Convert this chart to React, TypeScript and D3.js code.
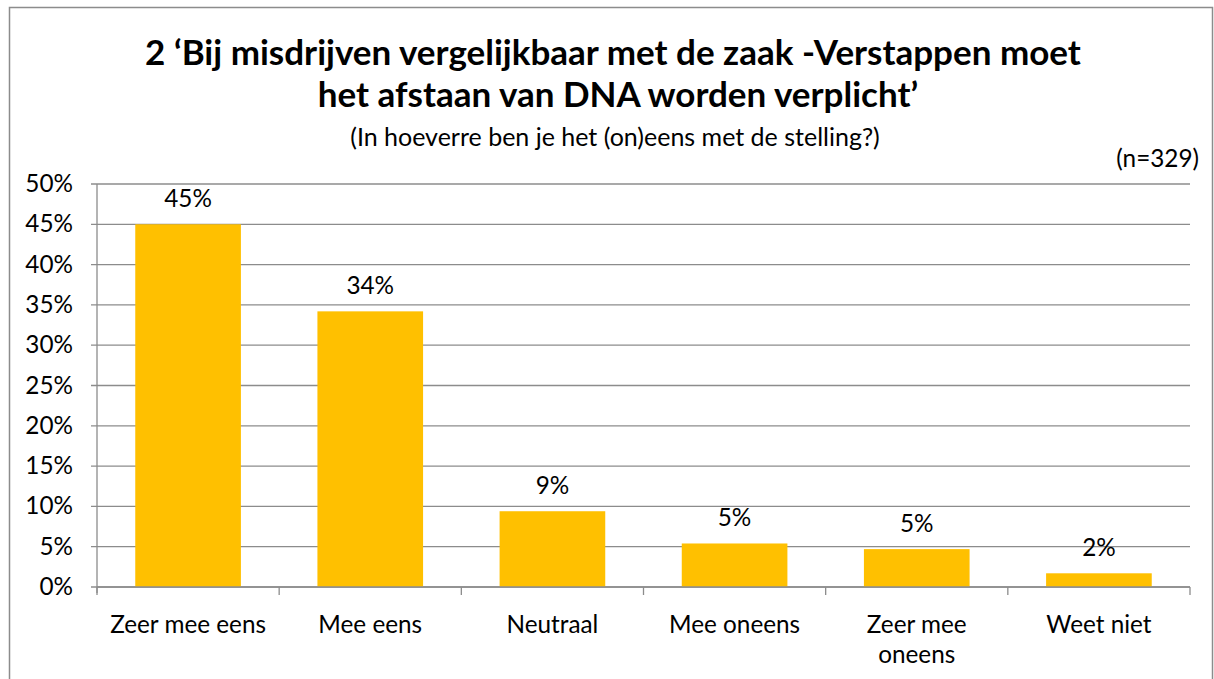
import React from "react";
import * as d3 from "d3";

const categories: string[][] = [
  ["Zeer mee eens"],
  ["Mee eens"],
  ["Neutraal"],
  ["Mee oneens"],
  ["Zeer mee", "oneens"],
  ["Weet niet"],
];
const values: number[] = [45.0, 34.2, 9.4, 5.4, 4.7, 1.7];
const valueLabels: string[] = ["45%", "34%", "9%", "5%", "5%", "2%"];
const yTicks: number[] = [0, 5, 10, 15, 20, 25, 30, 35, 40, 45, 50];
const titleLines: string[] = [
  "2 \u2018Bij misdrijven vergelijkbaar met de zaak -Verstappen moet",
  "het afstaan van DNA worden verplicht\u2019",
];
const subtitle = "(In hoeverre ben je het (on)eens met de stelling?)";
const nLabel = "(n=329)";

export default function App() {
  const W = 1214;
  const H = 679;
  const left = 97;
  const right = 1190;
  const top = 184;
  const bottom = 587;
  const font = "Lato, 'Open Sans', sans-serif";
  const fs = 24.3;
  const x = d3
    .scaleBand<number>()
    .domain(d3.range(categories.length))
    .range([left, right])
    .paddingInner(0.42)
    .paddingOuter(0.21);
  const y = d3.scaleLinear().domain([0, 50]).range([bottom, top]);
  const step = (right - left) / categories.length;
  const grid = "#8c8c8c";
  const titleX = [613, 618];
  return (
    <svg width={W} height={H} style={{ position: "absolute", left: 0, top: 0, background: "#fff" }}>
      <rect x={9.5} y={7.5} width={1203} height={700} fill="#fff" stroke="#8c8c8c" strokeWidth={1.5} />
      {titleLines.map((t, i) => (
        <text key={i} x={titleX[i]} y={65 + i * 42} textAnchor="middle" fontFamily={font} fontWeight="bold" fontSize={35} fill="#000">
          {t}
        </text>
      ))}
      <text x={615} y={146} textAnchor="middle" fontFamily={font} fontSize={25} fill="#000">
        {subtitle}
      </text>
      <text x={1199} y={167} textAnchor="end" fontFamily={font} fontSize={fs} fill="#000">
        {nLabel}
      </text>
      {yTicks.map((t) => (
        <g key={t}>
          <line x1={left - 6} x2={right} y1={y(t)} y2={y(t)} stroke={grid} strokeWidth={1.3} />
          <text x={73} y={y(t) + 8} textAnchor="end" fontFamily={font} fontSize={fs} fill="#000">
            {t}%
          </text>
        </g>
      ))}
      <line x1={left} x2={left} y1={top} y2={bottom + 6} stroke={grid} strokeWidth={1.3} />
      {d3.range(categories.length + 1).map((i) => (
        <line key={i} x1={left + i * step} x2={left + i * step} y1={bottom} y2={bottom + 8} stroke={grid} strokeWidth={1.3} />
      ))}
      {values.map((v, i) => (
        <g key={i}>
          <rect x={x(i)!} y={y(v)} width={x.bandwidth()} height={bottom - y(v)} fill="#FFC000" />
          <text x={x(i)! + x.bandwidth() / 2} y={y(v) - 17} textAnchor="middle" fontFamily={font} fontSize={fs} fill="#000">
            {valueLabels[i]}
          </text>
        </g>
      ))}
      <line x1={left} x2={right} y1={bottom} y2={bottom} stroke={grid} strokeWidth={1.5} />
      {categories.map((lines, i) =>
        lines.map((l, j) => (
          <text key={i + "-" + j} x={x(i)! + x.bandwidth() / 2} y={633 + j * 30} textAnchor="middle" fontFamily={font} fontSize={fs} fill="#000">
            {l}
          </text>
        ))
      )}
    </svg>
  );
}
